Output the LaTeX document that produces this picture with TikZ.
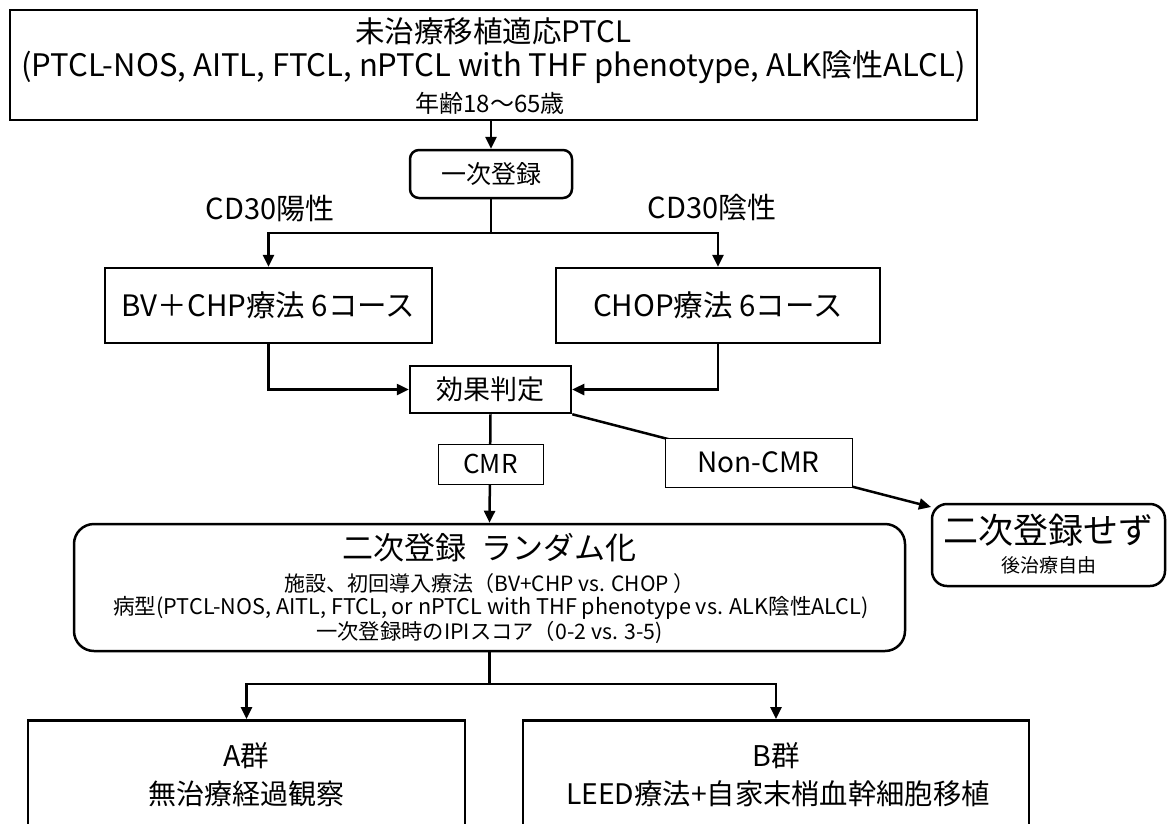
\documentclass[tikz,border=0pt]{standalone}
\usepackage{fontspec}
\setmainfont{Noto Sans CJK JP}
\usetikzlibrary{arrows.meta,calc}
\newcommand\myfs[1]{\fontsize{#1}{#1}\selectfont}
\begin{document}
\begin{tikzpicture}[x=1pt,y=-1pt,
  box/.style={draw=black, line width=2.5pt, rectangle, inner sep=0pt, fill=white},
  rbox/.style={box, rounded corners=#1},
  lbl/.style={draw=black, line width=1pt, fill=white, inner sep=0pt},
  txt/.style={inner sep=0pt, text=black},
  conn/.style={line width=2.5pt, -{Triangle[length=12pt,width=11pt]}},
  plain/.style={line width=2.5pt}]
\clip (0,0) rectangle (1170,823);
\fill[white] (0,0) rectangle (1170,823);

% boxes
\node[box, minimum width=967pt, minimum height=110pt] (top) at (493.5,65) {};
\node[txt, font=\myfs{29.5}] (t1) at (493.5,31) {未治療移植適応PTCL};
\node[txt, font=\myfs{31}] (t2) at (493.5,67) {(PTCL-NOS, AITL, FTCL, nPTCL with THF phenotype, ALK陰性ALCL)};
\node[txt, font=\myfs{24}] (t3) at (490,103) {年齢18〜65歳};

\node[rbox=9pt, minimum width=162pt, minimum height=48pt, font=\myfs{25}] (first) at (491,174) {一次登録};

\node[txt, font=\myfs{29}] (pos) at (270,208) {CD30陽性};
\node[txt, font=\myfs{29}] (neg) at (712,208) {CD30陰性};

\node[box, minimum width=327pt, minimum height=75pt, font=\myfs{29.5}] (bv) at (268.5,305.5) {BV＋CHP療法 6コース};
\node[box, minimum width=324pt, minimum height=75pt, font=\myfs{29.5}] (chop) at (718,305.5) {CHOP療法 6コース};

\node[box, minimum width=161pt, minimum height=47pt, font=\myfs{27}] (eval) at (490.5,389.5) {効果判定};

\node[rbox=15pt, minimum width=233pt, minimum height=82pt] (nz) at (1048.5,545) {};
\node[txt, font=\myfs{35}] (nz1) at (1048.5,530) {二次登録せず};
\node[txt, font=\myfs{19}] (nz2) at (1048.5,565) {後治療自由};

\node[rbox=20pt, minimum width=831pt, minimum height=127pt] (rand) at (489.5,587.5) {};
\node[txt, font=\myfs{31}] (r1) at (489.5,548) {二次登録\hspace{0.5em}ランダム化};
\node[txt, font=\myfs{21}] (r2) at (489.5,584) {施設、初回導入療法（BV+CHP vs. CHOP ）};
\node[txt, font=\myfs{21.6}] (r3) at (491,608) {病型(PTCL-NOS, AITL, FTCL, or nPTCL with THF phenotype vs. ALK陰性ALCL)};
\node[txt, font=\myfs{21.3}] (r4) at (489.5,632) {一次登録時のIPIスコア（0-2 vs. 3-5)};

\node[box, minimum width=437pt, minimum height=140pt, anchor=north] (A) at (246.5,719) {};
\node[txt, font=\myfs{28.5}] (a1) at (246.5,756) {A群};
\node[txt, font=\myfs{28}] (a2) at (246.5,794) {無治療経過観察};
\node[box, minimum width=506pt, minimum height=140pt, anchor=north] (B) at (776,719) {};
\node[txt, font=\myfs{28.5}] (b1) at (776,756) {B群};
\node[txt, font=\myfs{28.3}] (b2) at (778,794) {LEED療法+自家末梢血幹細胞移植};

% connectors
\coordinate (s1) at (491,233);
\coordinate (nzc) at (931,507);
\coordinate (s2) at (489.5,684);
\draw[conn] (top.south -| first.north) -- (first.north);
\draw[plain] (first.south) -- (s1);
\draw[conn] (s1) -| (bv.north);
\draw[conn] (s1) -| (chop.north);
\draw[conn] (bv.south) |- (eval.west);
\draw[conn] (chop.south) |- (eval.east);
\draw[conn] (eval.south) -- (rand.north);
\draw[conn] (eval.south east) -- (nzc);
\draw[plain] (rand.south) -- (s2);
\draw[conn] (s2) -| (A.north);
\draw[conn] (s2) -| (B.north);

% labels on connectors
\node[lbl, minimum width=105pt, minimum height=40pt, font=\myfs{26}] (cmr) at (490.5,464) {CMR};
\node[lbl, minimum width=187pt, minimum height=49pt, font=\myfs{28}] (ncmr) at (758.5,462.5) {Non-CMR};
\end{tikzpicture}
\end{document}
